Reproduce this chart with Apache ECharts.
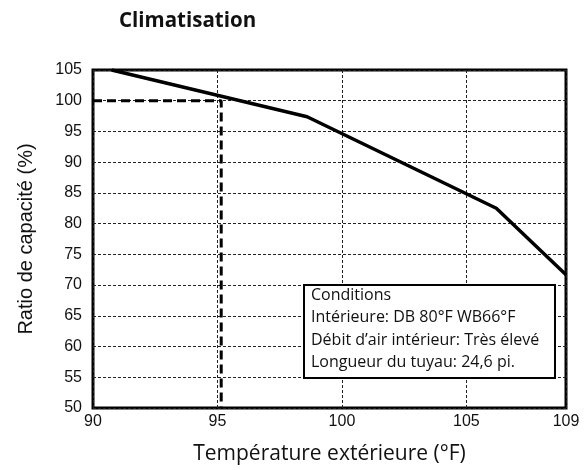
<!DOCTYPE html>
<html>
<head>
<meta charset="utf-8">
<script src="https://cdn.jsdelivr.net/npm/echarts@6/dist/echarts.min.js"></script>
<style>
  html, body { margin: 0; padding: 0; background: #fff; }
  #chart { width: 584px; height: 470px; }
</style>
</head>
<body>
<div id="chart"></div>
<script>
// courbe du ratio de capacité
const temps = [90.75, 98.6, 106.2, 109];
const ratios = [105, 97.4, 82.5, 71.7];

// lecture à 95°F (pointillés épais)
const refX = [90, 95.15, 95.15];
const refY = [100, 100, 50];

const xTicks = [90, 95, 100, 105, 109];
const conditions = [
    'Conditions',
    'Intérieure: DB 80°F WB66°F',
    'Débit d’air intérieur: Très élevé',
    'Longueur du tuyau: 24,6 pi.'
];

const chart = echarts.init(document.getElementById('chart'), null, { width: 584, height: 470 });

const gridLine = { show: true, lineStyle: { color: '#222', width: 1, type: [3, 2] } };

const option = {
    animation: false,
    title: {
        text: 'Climatisation',
        left: 114,
        top: 6,
        textStyle: { fontFamily: 'Open Sans', fontWeight: 'bold', fontSize: 20.5, color: '#111' }
    },
    grid: {
        left: 93, right: 18, top: 70, bottom: 62,
        show: true, borderColor: '#000', borderWidth: 3, backgroundColor: 'transparent'
    },
    xAxis: {
        type: 'value',
        min: 90, max: 109, interval: 5,
        name: 'Température extérieure (°F)',
        nameLocation: 'middle',
        nameGap: 36,
        nameTextStyle: { fontFamily: 'Open Sans', fontSize: 21, color: '#111' },
        axisLine: { show: false },
        axisTick: { show: false },
        axisLabel: {
            customValues: xTicks,
            margin: 6,
            fontFamily: 'Liberation Sans', fontSize: 16, color: '#111'
        },
        splitLine: gridLine
    },
    yAxis: {
        type: 'value',
        min: 50, max: 105, interval: 5,
        name: 'Ratio de capacité (%)',
        nameLocation: 'middle',
        nameGap: 57,
        nameTextStyle: { fontFamily: 'Liberation Sans', fontSize: 20, color: '#111' },
        axisLine: { show: false },
        axisTick: { show: false },
        axisLabel: { margin: 11, fontFamily: 'Liberation Sans', fontSize: 16, color: '#111' },
        splitLine: gridLine
    },
    series: [
        {
            type: 'line',
            data: refX.map((x, i) => [x, refY[i]]),
            symbol: 'none',
            lineStyle: { color: '#000', width: 3, type: [9, 5] },
            z: 3
        },
        {
            type: 'line',
            data: temps.map((x, i) => [x, ratios[i]]),
            symbol: 'none',
            lineStyle: { color: '#000', width: 3.5 },
            z: 4
        }
    ],
    graphic: [
        {
            type: 'rect',
            shape: { x: 304, y: 285, width: 251, height: 93 },
            style: { fill: '#fff', stroke: '#000', lineWidth: 2 },
            z: 10
        },
        ...conditions.map((t, i) => ({
            type: 'text',
            left: 311,
            top: 287 + i * 22.5,
            style: { text: t, fontFamily: 'Open Sans', fontSize: 16, fill: '#111' },
            z: 11
        }))
    ]
};

chart.setOption(option);
</script>
</body>
</html>
